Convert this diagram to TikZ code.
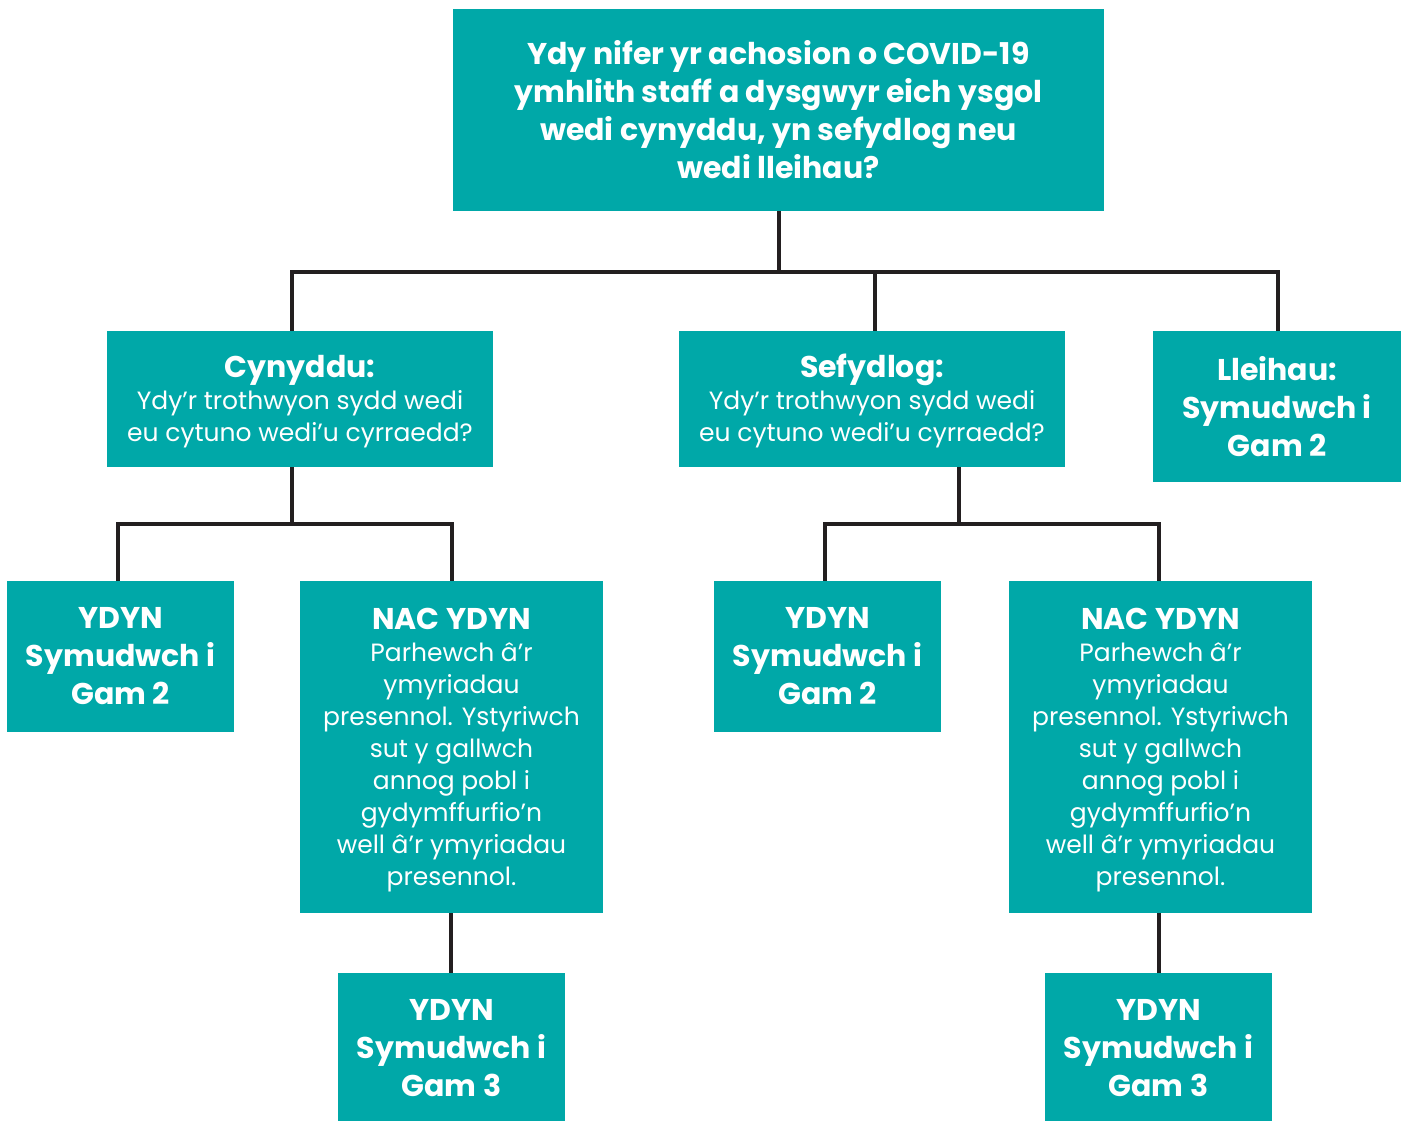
\documentclass[tikz,border=0pt]{standalone}
\usepackage{fontspec}
\setmainfont{Poppins}
\usetikzlibrary{backgrounds}
\definecolor{teal1}{RGB}{0,168,168}
\definecolor{ln}{RGB}{35,31,32}
\newcommand{\headline}[1]{{\fontsize{30}{38}\selectfont\bfseries\rule{0pt}{28pt}#1}}
\begin{document}
\begin{tikzpicture}[x=1pt,y=-1pt,
  box/.style={fill=teal1, text=white, inner sep=0pt, align=center},
  bfbox/.style={box, font=\fontsize{30}{38}\selectfont\bfseries},
  rgbox/.style={box, font=\fontsize{25}{32}\selectfont},
  conn/.style={draw=ln, line width=4pt, line join=miter}]
\useasboundingbox (0,0) rectangle (1407,1120);
% junction coordinates
\coordinate (j0) at (779,272);
\coordinate (jl) at (292,272);
\coordinate (jm) at (875,272);
\coordinate (jr) at (1278,272);
\coordinate (k1) at (292,524);
\coordinate (k1l) at (118,524);
\coordinate (k1r) at (452,524);
\coordinate (k2) at (959,524);
\coordinate (k2l) at (825,524);
\coordinate (k2r) at (1159,524);
\coordinate (m1) at (451,0);
\coordinate (m2) at (1159,0);
% boxes
\node[bfbox, minimum width=651pt, minimum height=202pt] (top) at (778.5,110)
  {Ydy nifer yr achosion o COVID-19\\ymhlith staff a dysgwyr eich ysgol\\wedi cynyddu, yn sefydlog neu\\wedi lleihau?};
\node[rgbox, minimum width=386pt, minimum height=136pt] (cyn) at (300,399)
  {\headline{Cynyddu:}\\[0pt]Ydy’r trothwyon sydd wedi\\eu cytuno wedi’u cyrraedd?};
\node[rgbox, minimum width=386pt, minimum height=136pt] (sef) at (872,399)
  {\headline{Sefydlog:}\\[0pt]Ydy’r trothwyon sydd wedi\\eu cytuno wedi’u cyrraedd?};
\node[bfbox, minimum width=248pt, minimum height=151pt] (lle) at (1277,406.5)
  {Lleihau:\\Symudwch i\\Gam 2};
\node[bfbox, minimum width=227pt, minimum height=151pt] (y1) at (120.5,656.5)
  {YDYN\\Symudwch i\\Gam 2};
\node[rgbox, minimum width=303pt, minimum height=332pt] (n1) at (451.5,747)
  {\headline{NAC YDYN}\\[0pt]Parhewch â’r\\ymyriadau\\presennol. Ystyriwch\\sut y gallwch\\annog pobl i\\gydymffurfio’n\\well â’r ymyriadau\\presennol.};
\node[bfbox, minimum width=227pt, minimum height=151pt] (g1) at (451.5,1048.5)
  {YDYN\\Symudwch i\\Gam 3};
\node[bfbox, minimum width=227pt, minimum height=151pt] (y2) at (827.5,656.5)
  {YDYN\\Symudwch i\\Gam 2};
\node[rgbox, minimum width=303pt, minimum height=332pt] (n2) at (1160.5,747)
  {\headline{NAC YDYN}\\[0pt]Parhewch â’r\\ymyriadau\\presennol. Ystyriwch\\sut y gallwch\\annog pobl i\\gydymffurfio’n\\well â’r ymyriadau\\presennol.};
\node[bfbox, minimum width=227pt, minimum height=151pt] (g2) at (1158.5,1048.5)
  {YDYN\\Symudwch i\\Gam 3};
% connectors
\begin{pgfonlayer}{background}
\draw[conn] (top.south -| j0) -- (j0);
\draw[conn] (jl |- cyn.north) -- (jl) -- (jr) -- (jr |- lle.north);
\draw[conn] (jm) -- (jm |- sef.north);
\draw[conn] (k1 |- cyn.south) -- (k1);
\draw[conn] (k1l |- y1.north) -- (k1l) -- (k1r) -- (k1r |- n1.north);
\draw[conn] (m1 |- n1.south) -- (m1 |- g1.north);
\draw[conn] (k2 |- sef.south) -- (k2);
\draw[conn] (k2l |- y2.north) -- (k2l) -- (k2r) -- (k2r |- n2.north);
\draw[conn] (m2 |- n2.south) -- (m2 |- g2.north);
\end{pgfonlayer}
\end{tikzpicture}
\end{document}
